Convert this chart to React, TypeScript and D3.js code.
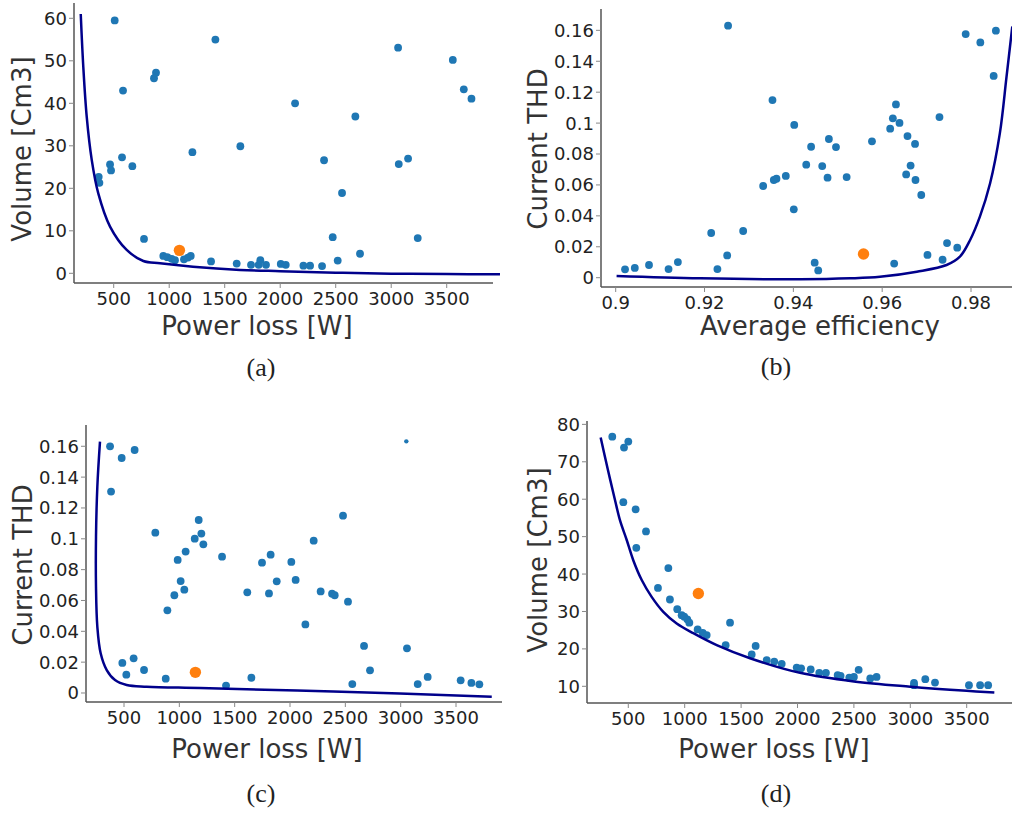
import React from "react";
import * as d3 from "d3";

// ---------- (a) Power loss vs Volume ----------
const aLoss = [509, 1416, 3062, 3555, 881, 863, 584, 3654, 3723, 2134, 2677, 1641, 1209, 575, 2395, 3152, 3068, 467, 668, 476, 365, 371, 2557, 773, 2473, 3239, 2719, 947, 983, 1022, 1052, 1133, 1169, 1194, 1377, 1608, 1737, 1806, 1821, 1872, 2005, 2050, 2209, 2269, 2377, 2518];
const aVolume = [59.5, 55, 53.1, 50.2, 47.2, 45.9, 43, 43.3, 41.1, 40, 36.9, 29.9, 28.5, 27.3, 26.6, 27, 25.7, 25.6, 25.2, 24.2, 22.7, 21.3, 18.9, 8.1, 8.5, 8.3, 4.6, 4.1, 3.8, 3.4, 3.1, 3.3, 3.7, 4.1, 2.8, 2.3, 2.0, 2.0, 3.1, 2.0, 2.2, 2.0, 1.8, 1.8, 1.7, 3.0];
const aBestLoss = [1092];
const aBestVolume = [5.4];
const aCurveLoss = [203, 226, 257, 302, 361, 467, 617, 767, 917, 1214, 1638, 2000, 2500, 3000, 3500, 3980];
const aCurveVolume = [61, 48.6, 36.8, 26.7, 18.8, 11.0, 5.5, 2.9, 2.35, 1.55, 0.8, 0.5, 0.15, -0.08, -0.18, -0.22];
const aXTicks = [500, 1000, 1500, 2000, 2500, 3000, 3500];
const aYTicks = [0, 10, 20, 30, 40, 50, 60];

// ---------- (b) Average efficiency vs Current THD ----------
const bEff = [0.9253, 0.9788, 0.9856, 0.9821, 0.9851, 0.9353, 0.9631, 0.9729, 0.9624, 0.9639, 0.9402, 0.9618, 0.9657, 0.948, 0.9577, 0.9674, 0.944, 0.9496, 0.9429, 0.9465, 0.9664, 0.9654, 0.9383, 0.9362, 0.9356, 0.9477, 0.952, 0.9675, 0.9332, 0.9688, 0.9401, 0.9215, 0.9287, 0.9746, 0.9769, 0.9251, 0.9702, 0.914, 0.9448, 0.9627, 0.9736, 0.9075, 0.9043, 0.9021, 0.9119, 0.9229, 0.9456];
const bThd = [0.163, 0.1576, 0.1598, 0.1522, 0.1305, 0.1149, 0.1121, 0.1039, 0.1031, 0.1001, 0.0988, 0.0964, 0.0916, 0.0897, 0.0882, 0.0865, 0.0847, 0.0845, 0.0731, 0.0722, 0.0725, 0.0668, 0.0658, 0.064, 0.0632, 0.0647, 0.0651, 0.0632, 0.0593, 0.0535, 0.0442, 0.0289, 0.0302, 0.0224, 0.0194, 0.0144, 0.0147, 0.0101, 0.0097, 0.0091, 0.0116, 0.0082, 0.0063, 0.0054, 0.0056, 0.0056, 0.0047];
const bBestEff = [0.9558];
const bBestThd = [0.0153];
const bCurveEff = [0.9002, 0.919, 0.9415, 0.9528, 0.9595, 0.9678, 0.9745, 0.9775, 0.9798, 0.982, 0.9843, 0.9865, 0.988, 0.9893];
const bCurveThd = [0.0011, -0.0004, -0.001, -0.0004, 0.0006, 0.0039, 0.0082, 0.0136, 0.0244, 0.0395, 0.0611, 0.0935, 0.13, 0.1625];
const bXTicks = [0.9, 0.92, 0.94, 0.96, 0.98];
const bYTicks = [0, 0.02, 0.04, 0.06, 0.08, 0.1, 0.12, 0.14, 0.16];

// ---------- (c) Power loss vs Current THD ----------
const cLoss = [374, 479, 596, 383, 2479, 1175, 1199, 783, 1139, 1217, 2214, 1057, 985, 1386, 1825, 1747, 2012, 1012, 1880, 2051, 1045, 955, 1614, 1810, 2277, 2380, 2404, 2524, 892, 2139, 2669, 3057, 587, 485, 681, 2723, 521, 877, 1651, 3244, 3542, 3639, 3711, 1422, 2563, 3154];
const cThd = [0.16, 0.1524, 0.1576, 0.1306, 0.115, 0.1122, 0.1034, 0.104, 0.1001, 0.0964, 0.0988, 0.0917, 0.0863, 0.0884, 0.0897, 0.0845, 0.085, 0.0726, 0.0724, 0.0733, 0.067, 0.0634, 0.0653, 0.0646, 0.0659, 0.0644, 0.0634, 0.0592, 0.0536, 0.0445, 0.0305, 0.029, 0.0225, 0.0195, 0.0149, 0.0147, 0.0119, 0.0093, 0.0099, 0.0104, 0.0082, 0.0065, 0.0056, 0.0048, 0.0058, 0.0058];
const cSmallLoss = [3051];
const cSmallThd = [0.1632];
const cBestLoss = [1145];
const cBestThd = [0.0134];
const cCurveLoss = [283, 259, 247, 247, 259, 289, 344, 419, 524, 705, 1187, 2391, 3823];
const cCurveThd = [0.163, 0.1338, 0.1013, 0.0689, 0.043, 0.0258, 0.0149, 0.0084, 0.0052, 0.0041, 0.0032, 0.001, -0.0024];
const cXTicks = [500, 1000, 1500, 2000, 2500, 3000, 3500];
const cYTicks = [0, 0.02, 0.04, 0.06, 0.08, 0.1, 0.12, 0.14, 0.16];

// ---------- (d) Power loss vs Volume (front) ----------
const dLoss = [358, 462, 500, 456, 565, 657, 571, 855, 763, 869, 934, 973, 996, 1023, 1041, 1115, 1160, 1195, 1402, 1363, 1629, 1594, 1727, 1794, 1860, 1993, 2032, 2117, 2193, 2252, 2356, 2382, 2459, 2500, 2542, 2645, 2701, 3033, 3033, 3133, 3219, 3520, 3619, 3690];
const dVolume = [76.7, 73.8, 75.4, 59.2, 57.3, 51.4, 47, 41.6, 36.3, 33.2, 30.6, 29.0, 28.6, 27.9, 27.0, 25.2, 24.3, 23.7, 27, 21, 20.8, 18.5, 17, 16.6, 16, 15, 14.8, 14.5, 13.6, 13.6, 13.0, 12.8, 12.3, 12.5, 14.4, 12.1, 12.5, 10.9, 10.3, 11.9, 11.0, 10.3, 10.3, 10.3];
const dBestLoss = [1121];
const dBestVolume = [34.8];
const dCurveLoss = [255, 318, 382, 426, 486, 544, 619, 707, 810, 929, 1076, 1284, 1579, 2022, 2500, 3000, 3500, 3745];
const dCurveVolume = [76.5, 68, 59.8, 54.4, 49.1, 43.7, 38.4, 33.9, 29.9, 26.8, 24.2, 21.0, 17.5, 13.6, 11.3, 9.9, 8.8, 8.35];
const dXTicks = [500, 1000, 1500, 2000, 2500, 3000, 3500];
const dYTicks = [10, 20, 30, 40, 50, 60, 70, 80];

const FONT = "'DejaVu Sans', Verdana, sans-serif";
const SERIF = "'Liberation Serif', 'DejaVu Serif', serif";
const BLUE = "#1f77b4";
const ORANGE = "#ff7f0e";
const NAVY = "#00008b";
const AXIS = "#555";
const fmt = (v: number) => String(+v.toFixed(3));

type Box = { left: number; right: number; top: number; bottom: number };

function Panel(props: {
  box: Box;
  xDomain: [number, number];
  yDomain: [number, number];
  xTicks: number[];
  yTicks: number[];
  xs: number[];
  ys: number[];
  bestX: number[];
  bestY: number[];
  smallX?: number[];
  smallY?: number[];
  curveX: number[];
  curveY: number[];
  xTitle: string;
  yTitle: string;
  xTitlePos: [number, number];
  yTitlePos: [number, number];
  caption: string;
  captionPos: [number, number];
}) {
  const { box } = props;
  const x = d3.scaleLinear().domain(props.xDomain).range([box.left, box.right]);
  const y = d3.scaleLinear().domain(props.yDomain).range([box.bottom, box.top]);
  const line = d3
    .line<number>()
    .x((_, i) => x(props.curveX[i]))
    .y((_, i) => y(props.curveY[i]))
    .curve(d3.curveCatmullRom.alpha(0.5));
  return (
    <g>
      <line x1={box.left} x2={box.right} y1={box.bottom} y2={box.bottom} stroke={AXIS} strokeWidth={1.5} />
      <line x1={box.left} x2={box.left} y1={box.top} y2={box.bottom} stroke={AXIS} strokeWidth={1.5} />
      {props.xTicks.map((t) => (
        <g key={"xt" + t}>
          <line x1={x(t)} x2={x(t)} y1={box.bottom} y2={box.bottom + 5} stroke="#888" strokeWidth={1} />
          <text x={x(t)} y={box.bottom + 22} textAnchor="middle" fontSize={18} fill="#222" fontFamily={FONT}>
            {fmt(t)}
          </text>
        </g>
      ))}
      {props.yTicks.map((t) => (
        <g key={"yt" + t}>
          <line x1={box.left - 5} x2={box.left} y1={y(t)} y2={y(t)} stroke="#888" strokeWidth={1} />
          <text x={box.left - 7} y={y(t)} dy="0.36em" textAnchor="end" fontSize={18} fill="#222" fontFamily={FONT}>
            {fmt(t)}
          </text>
        </g>
      ))}
      {props.xs.map((v, i) => (
        <circle key={"p" + i} cx={x(v)} cy={y(props.ys[i])} r={3.9} fill={BLUE} />
      ))}
      {(props.smallX || []).map((v, i) => (
        <circle key={"s" + i} cx={x(v)} cy={y((props.smallY || [])[i])} r={2.2} fill={BLUE} />
      ))}
      {props.bestX.map((v, i) => (
        <circle key={"b" + i} cx={x(v)} cy={y(props.bestY[i])} r={5.7} fill={ORANGE} />
      ))}
      <path d={line(props.curveX) || ""} fill="none" stroke={NAVY} strokeWidth={2.5} />
      <text x={props.xTitlePos[0]} y={props.xTitlePos[1]} textAnchor="middle" fontSize={26} fill="#333" fontFamily={FONT}>
        {props.xTitle}
      </text>
      <text
        transform={`translate(${props.yTitlePos[0]},${props.yTitlePos[1]}) rotate(-90)`}
        textAnchor="middle"
        fontSize={26}
        fill="#333"
        fontFamily={FONT}
      >
        {props.yTitle}
      </text>
      <text x={props.captionPos[0]} y={props.captionPos[1]} textAnchor="middle" fontSize={26} fill="#222" fontFamily={SERIF}>
        {props.caption}
      </text>
    </g>
  );
}

export default function App() {
  return (
    <svg width={1012} height={815} style={{ position: "absolute", left: 0, top: 0, background: "#fff" }}>
      <rect width={1012} height={815} fill="#fff" />
      <Panel
        box={{ left: 74, right: 493, top: 3, bottom: 283 }}
        xDomain={[142.3, 3917]}
        yDomain={[-2.28, 63.6]}
        xTicks={aXTicks}
        yTicks={aYTicks}
        xs={aLoss}
        ys={aVolume}
        bestX={aBestLoss}
        bestY={aBestVolume}
        curveX={aCurveLoss}
        curveY={aCurveVolume}
        xTitle="Power loss [W]"
        yTitle="Volume [Cm3]"
        xTitlePos={[257, 335]}
        yTitlePos={[31, 149]}
        caption="(a)"
        captionPos={[261, 376]}
      />
      <Panel
        box={{ left: 601, right: 1012, top: 9, bottom: 287 }}
        xDomain={[0.89669, 0.98923]}
        yDomain={[-0.00602, 0.1738]}
        xTicks={bXTicks}
        yTicks={bYTicks}
        xs={bEff}
        ys={bThd}
        bestX={bBestEff}
        bestY={bBestThd}
        curveX={bCurveEff}
        curveY={bCurveThd}
        xTitle="Average efficiency"
        yTitle="Current THD"
        xTitlePos={[820, 335]}
        yTitlePos={[547, 149]}
        caption="(b)"
        captionPos={[776, 375]}
      />
      <Panel
        box={{ left: 86, right: 502, top: 425, bottom: 702 }}
        xDomain={[156.6, 3915.6]}
        yDomain={[-0.00584, 0.1738]}
        xTicks={cXTicks}
        yTicks={cYTicks}
        xs={cLoss}
        ys={cThd}
        bestX={cBestLoss}
        bestY={cBestThd}
        smallX={cSmallLoss}
        smallY={cSmallThd}
        curveX={cCurveLoss}
        curveY={cCurveThd}
        xTitle="Power loss [W]"
        yTitle="Current THD"
        xTitlePos={[267, 758]}
        yTitlePos={[32, 565]}
        caption="(c)"
        captionPos={[261, 802]}
      />
      <Panel
        box={{ left: 587, right: 1012, top: 421, bottom: 703 }}
        xDomain={[133.9, 3901.6]}
        yDomain={[5.54, 80.9]}
        xTicks={dXTicks}
        yTicks={dYTicks}
        xs={dLoss}
        ys={dVolume}
        bestX={dBestLoss}
        bestY={dBestVolume}
        curveX={dCurveLoss}
        curveY={dCurveVolume}
        xTitle="Power loss [W]"
        yTitle="Volume [Cm3]"
        xTitlePos={[774, 758]}
        yTitlePos={[547, 560]}
        caption="(d)"
        captionPos={[776, 802]}
      />
    </svg>
  );
}
